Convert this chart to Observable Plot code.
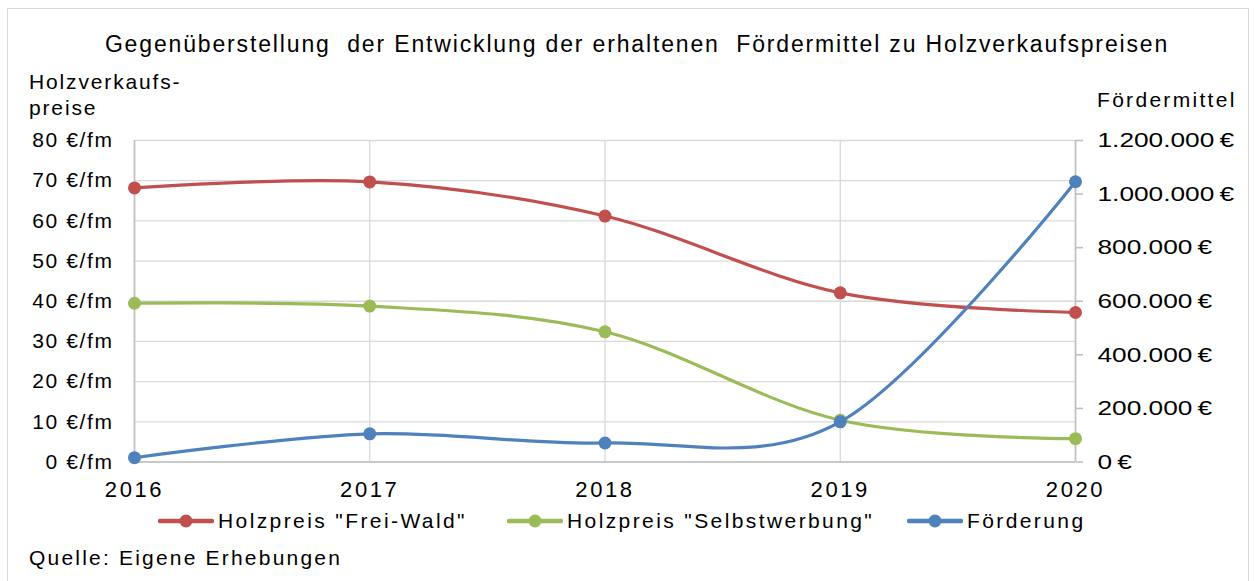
<!DOCTYPE html>
<html><head><meta charset="utf-8">
<script src="https://cdn.jsdelivr.net/npm/d3@7"></script>
<script src="https://cdn.jsdelivr.net/npm/@observablehq/plot@0.6"></script>
<style>
body{margin:0;background:#fff;font-family:"Liberation Sans",Arial,sans-serif;color:#000;}
#wrap{position:relative;width:1254px;height:581px;overflow:hidden;background:#fff;}
#frame{position:absolute;left:7px;top:8px;width:1242px;height:640px;border:1.5px solid #d9d9d9;box-sizing:border-box;}
.t{position:absolute;white-space:pre;line-height:1;}
#chart{position:absolute;left:0;top:120px;}
.leg{position:absolute;top:509px;display:flex;align-items:center;font-size:21px;line-height:24px;letter-spacing:2.4px;}
.leg svg{margin-right:4px;}
</style></head><body>
<div id="wrap">
<div id="frame"></div>
<div class="t" style="left:0;width:1254px;top:33px;text-align:center;font-size:23px;letter-spacing:1.85px;padding-left:20px;box-sizing:border-box">Gegenüberstellung  der Entwicklung der erhaltenen  Fördermittel zu Holzverkaufspreisen</div>
<div class="t" style="left:29px;top:69px;font-size:21px;line-height:26px;letter-spacing:1.85px">Holzverkaufs-<br>preise</div>
<div class="t" style="left:1097px;top:89px;font-size:21px;letter-spacing:2.3px">Fördermittel</div>
<div id="chart"></div>
<div id="legend"></div>
<div class="t" style="left:29px;top:547px;font-size:21px;letter-spacing:2.2px">Quelle: Eigene Erhebungen</div>
</div>
<script>
const years = [2016, 2017, 2018, 2019, 2020];
const freiWald = [68.2, 69.7, 61.2, 42.1, 37.2];
const selbstwerbung = [39.5, 38.8, 32.4, 10.4, 5.8];
const foerderung = [16000, 105000, 71000, 150000, 1046000];
const leftTicks = [0, 10, 20, 30, 40, 50, 60, 70, 80];
const rightTicks = [0, 200000, 400000, 600000, 800000, 1000000, 1200000];
const seriesNames = ['Holzpreis "Frei-Wald"', 'Holzpreis "Selbstwerbung"', 'Förderung'];
const colors = ["#C0504D", "#9BBB59", "#4F81BD"];

const ratio = 1200000 / 80;
const rows = years.map((y, i) => ({year: y, frei: freiWald[i], selbst: selbstwerbung[i], foer: foerderung[i] / ratio}));
const deFmt = v => String(Math.round(v)).replace(/\B(?=(\d{3})+(?!\d))/g, ".");

const lw = 3.2, r = 6.5;
const chart = Plot.plot({
  width: 1254,
  height: 390,
  marginTop: 20,
  marginBottom: 48.5,
  marginLeft: 134,
  marginRight: 179,
  style: {fontFamily: "'Liberation Sans', Arial, sans-serif", fontSize: "21px", color: "#000", background: "transparent"},
  x: {domain: [2016, 2020], axis: null},
  y: {domain: [0, 80], axis: null},
  marks: [
    Plot.gridY(leftTicks, {stroke: "#d9d9d9", strokeOpacity: 1, strokeWidth: 1.3}),
    Plot.gridX(years, {stroke: "#d9d9d9", strokeOpacity: 1, strokeWidth: 1.3}),
    Plot.ruleX([2016, 2020], {stroke: "#bfbfbf", strokeWidth: 1.6}),
    Plot.ruleY([0], {stroke: "#bfbfbf", strokeWidth: 1.6}),
    Plot.axisY(leftTicks, {anchor: "left", tickSize: 0, tickPadding: 21, tickFormat: d => `${d} €/fm`, label: null, fill: "#000"}),
    Plot.axisY(rightTicks.map(v => v / ratio), {anchor: "right", tickSize: 7, tickPadding: 15, stroke: "#bfbfbf", strokeWidth: 1.6, fill: "#000", tickFormat: d => `${deFmt(d * ratio)}\u202F€`, label: null}),
    Plot.axisX(years, {anchor: "bottom", tickSize: 0, tickPadding: 19, fontSize: 22, tickFormat: d => String(d), label: null, fill: "#000"}),
    Plot.line(rows, {x: "year", y: "frei", curve: "cardinal", stroke: colors[0], strokeWidth: lw}),
    Plot.dot(rows, {x: "year", y: "frei", r, fill: colors[0]}),
    Plot.line(rows, {x: "year", y: "selbst", curve: "cardinal", stroke: colors[1], strokeWidth: lw}),
    Plot.dot(rows, {x: "year", y: "selbst", r, fill: colors[1]}),
    Plot.line(rows, {x: "year", y: "foer", curve: "cardinal", stroke: colors[2], strokeWidth: lw}),
    Plot.dot(rows, {x: "year", y: "foer", r, fill: colors[2]})
  ]
});
document.getElementById("chart").appendChild(chart);
d3.select(chart).selectAll("text").each(function() {
  const t = this.textContent.trim();
  if (t.endsWith("€/fm")) this.style.letterSpacing = "1.6px";
  else if (/^\d{4}$/.test(t)) this.style.letterSpacing = "2.6px";
  else if (t.endsWith("€")) {
    const bx = this.getBBox().x;
    const prev = this.getAttribute("transform") || "";
    this.setAttribute("transform", `${prev} translate(${bx},0) scale(1.25,1) translate(${-bx},0)`);
  }
});

const legendX = [158, 507, 907];
const legend = document.getElementById("legend");
seriesNames.forEach((name, i) => {
  const d = document.createElement("div");
  d.className = "leg";
  d.style.left = legendX[i] + "px";
  d.innerHTML = `<svg width="56" height="16"><line x1="2" y1="8" x2="54" y2="8" stroke="${colors[i]}" stroke-width="4.5" stroke-linecap="round"/><circle cx="28" cy="8" r="6.5" fill="${colors[i]}"/></svg>`;
  const s = document.createElement("span");
  s.textContent = name;
  d.appendChild(s);
  legend.appendChild(d);
});
</script>
</body></html>
